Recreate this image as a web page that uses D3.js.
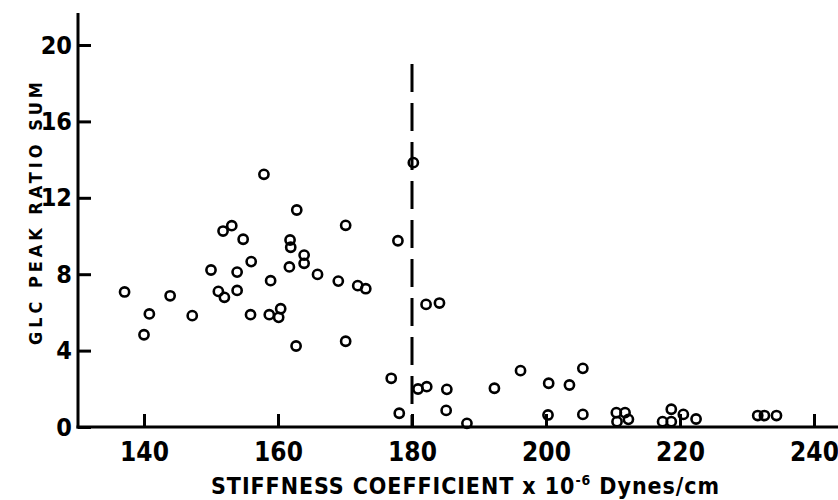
<!DOCTYPE html>
<html>
<head>
<meta charset="utf-8">
<script src="https://cdn.jsdelivr.net/npm/d3@7"></script>
<style>
  body { margin: 0; background: #fff; }
  svg { display: block; }
  .tick text { font-family: "Liberation Sans Narrow", "DejaVu Sans Condensed", sans-serif; font-weight: bold; }
</style>
</head>
<body>
<div id="chart"></div>
<script>
// stiffness (x 10^-6 dynes/cm) and GLC peak ratio sum
const stiffness = [
  137.1, 140.0, 140.8, 143.9, 147.2, 150.0, 151.1, 152.0, 151.8, 153.1,
  154.8, 153.9, 153.9, 156.0, 155.9, 157.9, 158.9, 158.7, 160.4, 160.1,
  162.8, 161.8, 161.9, 161.7, 163.9, 163.9, 162.7, 165.9, 169.0, 170.1,
  170.1, 171.9, 173.1, 177.9, 180.2, 182.1, 184.1, 176.9, 178.1, 180.9,
  182.2, 185.2, 185.1, 188.2, 192.3, 196.2, 200.4, 200.3, 203.5, 205.5,
  205.5, 210.5, 211.8, 210.6, 212.3, 218.7, 217.4, 218.7, 220.5, 222.4,
  231.6, 232.6, 234.4
];
const peakRatio = [
  7.07, 4.83, 5.92, 6.87, 5.83, 8.22, 7.10, 6.79, 10.26, 10.54,
  9.83, 8.11, 7.15, 8.66, 5.88, 13.23, 7.66, 5.88, 6.19, 5.74,
  11.36, 9.79, 9.41, 8.38, 9.00, 8.57, 4.24, 7.99, 7.64, 10.56,
  4.49, 7.40, 7.24, 9.75, 13.84, 6.42, 6.49, 2.55, 0.72, 1.99,
  2.11, 1.97, 0.87, 0.19, 2.03, 2.95, 2.29, 0.63, 2.20, 3.07,
  0.66, 0.75, 0.75, 0.28, 0.40, 0.93, 0.28, 0.28, 0.66, 0.42,
  0.60, 0.60, 0.60
];
const xTicks = [140, 160, 180, 200, 220, 240];
const yTicks = [0, 4, 8, 12, 16, 20];
const cutoff = 180;      // dashed divider
const cutoffTop = 19;

const width = 838;
const height = 500;

const svg = d3.select("#chart")
  .append("svg")
  .attr("width", width)
  .attr("height", height);

const x = d3.scaleLinear().domain([140, 240]).range([144, 814]);
const y = d3.scaleLinear().domain([0, 20]).range([427, 45]);

const points = stiffness.map((s, i) => ({s: s, r: peakRatio[i]}));

// axis lines (heavier than the d3 default)
const axisX0 = 78;
svg.append("line")
  .attr("x1", axisX0).attr("x2", axisX0)
  .attr("y1", 13).attr("y2", y(0) + 1.5)
  .attr("stroke", "#000").attr("stroke-width", 3);
svg.append("line")
  .attr("x1", axisX0 - 1.5).attr("x2", width)
  .attr("y1", y(0)).attr("y2", y(0))
  .attr("stroke", "#000").attr("stroke-width", 3);

// y axis, ticks point inward
const yAxis = svg.append("g")
  .attr("transform", `translate(${axisX0},0)`)
  .call(d3.axisLeft(y).tickValues(yTicks).tickSizeInner(-13).tickSizeOuter(0).tickPadding(6));
yAxis.select(".domain").remove();
yAxis.selectAll(".tick line").attr("stroke-width", 3);
yAxis.selectAll(".tick text").attr("font-size", 25).attr("fill", "#000");

// x axis, ticks point up
const xAxis = svg.append("g")
  .attr("transform", `translate(0,${y(0)})`)
  .call(d3.axisBottom(x).tickValues(xTicks).tickSizeInner(-13).tickSizeOuter(0).tickPadding(16));
xAxis.select(".domain").remove();
xAxis.selectAll(".tick line").attr("stroke-width", 3);
xAxis.selectAll(".tick text").attr("font-size", 26).attr("fill", "#000");

// dashed divider at 180
svg.append("line")
  .attr("x1", x(cutoff)).attr("x2", x(cutoff))
  .attr("y1", y(cutoffTop)).attr("y2", y(0))
  .attr("stroke", "#000")
  .attr("stroke-width", 3)
  .attr("stroke-dasharray", "28,11");

// open circles
svg.selectAll(".pt")
  .data(points)
  .enter()
  .append("circle")
  .attr("class", "pt")
  .attr("cx", d => x(d.s))
  .attr("cy", d => y(d.r))
  .attr("r", 4.6)
  .attr("fill", "none")
  .attr("stroke", "#000")
  .attr("stroke-width", 2.6);

// axis titles
const xTitle = svg.append("text")
  .attr("x", 211)
  .attr("y", 494)
  .attr("font-family", "'Liberation Sans Narrow', 'DejaVu Sans Condensed', sans-serif")
  .attr("font-size", 23)
  .attr("font-weight", "bold")
  .attr("textLength", 508)
  .attr("lengthAdjust", "spacing")
  .attr("fill", "#000");
xTitle.append("tspan").text("STIFFNESS  COEFFICIENT  x  10");
xTitle.append("tspan").attr("dy", -9).attr("font-size", 14).text("-6");
xTitle.append("tspan").attr("dy", 9).text(" Dynes/cm");

svg.append("text")
  .attr("transform", "translate(42,345) rotate(-90)")
  .attr("font-family", "'DejaVu Sans Condensed', 'Liberation Sans Narrow', sans-serif")
  .attr("font-size", 18)
  .attr("font-weight", "bold")
  .attr("textLength", 263)
  .attr("lengthAdjust", "spacing")
  .attr("fill", "#000")
  .text("GLC PEAK RATIO SUM");
</script>
</body>
</html>
